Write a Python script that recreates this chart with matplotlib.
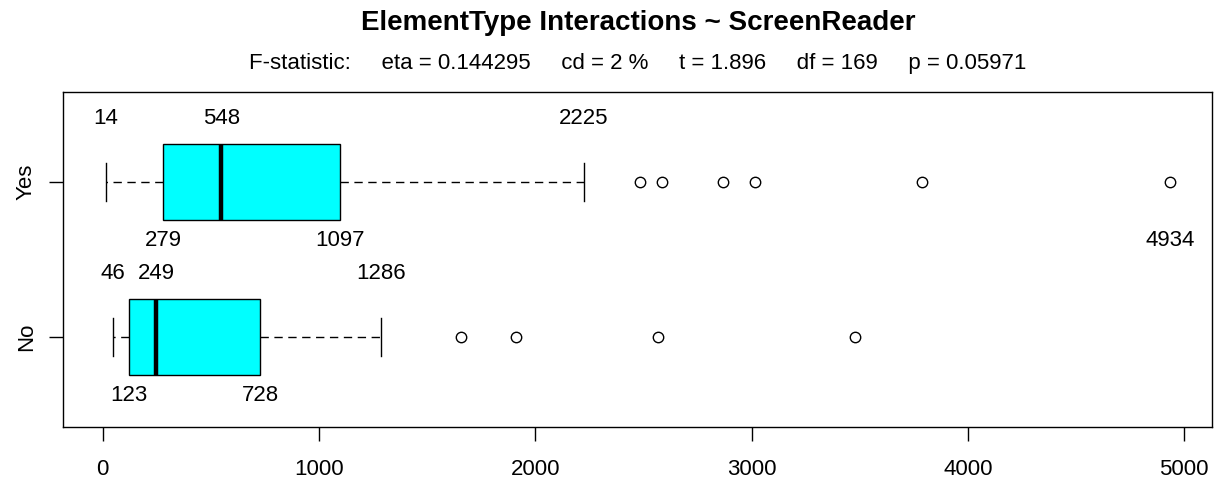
import matplotlib
matplotlib.use("Agg")
import matplotlib.pyplot as plt

plt.rcParams["font.family"] = ["Liberation Sans", "DejaVu Sans"]

# groups, bottom to top
groups = ["No", "Yes"]
whisker_lo = [46, 14]
q1 = [123, 279]
median = [249, 548]
q3 = [728, 1097]
whisker_hi = [1286, 2225]
outliers = [
    [1655, 1912, 2567, 3479],
    [2485, 2588, 2866, 3018, 3788, 4934],
]
# values printed above / below each box
labels_above = [[46, 249, 1286], [14, 548, 2225]]
labels_below = [[123, 728], [279, 1097, 4934]]

title = "ElementType Interactions ~ ScreenReader"
subtitle = ("F-statistic:     eta = 0.144295     cd = 2 %     t = 1.896     "
            "df = 169     p = 0.05971")

fig = plt.figure(figsize=(12.17, 4.82), dpi=100)
ax = fig.add_axes([0.0518, 0.1141, 0.9445, 0.695])

stats = []
for i, g in enumerate(groups):
    stats.append(dict(label=g, whislo=whisker_lo[i], q1=q1[i], med=median[i],
                      q3=q3[i], whishi=whisker_hi[i], fliers=outliers[i]))

pos = list(range(1, len(groups) + 1))
ax.bxp(stats, positions=pos, orientation="horizontal", widths=0.49,
       capwidths=0.25, patch_artist=True,
       boxprops=dict(facecolor="cyan", edgecolor="black", linewidth=1),
       medianprops=dict(color="black", linewidth=3.2, solid_capstyle="butt"),
       whiskerprops=dict(color="black", linewidth=1, linestyle=(0, (6, 4))),
       capprops=dict(color="black", linewidth=1),
       flierprops=dict(marker="o", markersize=7.5, markerfacecolor="none",
                       markeredgecolor="black", markeredgewidth=1))

for p, above, below in zip(pos, labels_above, labels_below):
    for v in above:
        ax.text(v, p + 0.41, str(v), ha="center", va="center", fontsize=16)
    for v in below:
        ax.text(v, p - 0.38, str(v), ha="center", va="center", fontsize=16)

all_vals = whisker_lo + whisker_hi + [v for o in outliers for v in o]
lo, hi = min(all_vals), max(all_vals)
pad = (hi - lo) * 0.04
ax.set_xlim(lo - pad, hi + pad)
ax.set_ylim(0.42, 2.58)

ax.set_xticks([0, 1000, 2000, 3000, 4000, 5000])
ax.set_yticks(pos)
ax.set_yticklabels(groups, rotation=90, va="center")
ax.tick_params(axis="both", labelsize=16, length=10, width=1)
ax.tick_params(axis="x", pad=13)
ax.tick_params(axis="y", pad=9)
for s in ax.spines.values():
    s.set_linewidth(1)

cx = 0.0518 + 0.9445 / 2
fig.text(cx, 0.953, title, ha="center", va="center", fontsize=20,
         fontweight="bold")
fig.text(cx, 0.869, subtitle, ha="center", va="center", fontsize=16)

fig.savefig("out.png", dpi=100)
